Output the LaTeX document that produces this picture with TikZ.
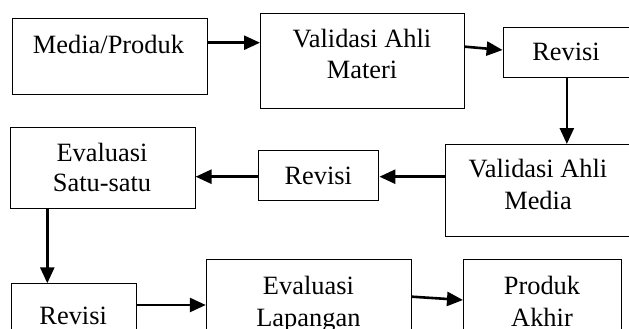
\documentclass[tikz,border=0pt]{standalone}
\usepackage{fontspec}
\setmainfont{Liberation Serif}
\usetikzlibrary{arrows.meta}
\begin{document}
\begin{tikzpicture}[x=1pt,y=-1pt,
  box/.style={draw=black,line width=1.1pt,rectangle,inner sep=0pt,anchor=north west},
  txt/.style={anchor=base,inner sep=0pt,font=\fontsize{26.4}{30}\selectfont},
  arr/.style={line width=2.6pt,-{Triangle[length=16pt,width=14pt]}}]
\useasboundingbox (0,0) rectangle (629,329);
\clip (0,0) rectangle (629,329);
% boxes
\node[box,minimum width=194.6pt,minimum height=76pt] (m1) at (12,18.3) {};
\node[box,minimum width=204pt,minimum height=95pt] (v1) at (260,12.7) {};
\node[box,minimum width=127.4pt,minimum height=50pt] (r1) at (502.6,26.7) {};
\node[box,minimum width=186pt,minimum height=92pt] (vm) at (445,144) {};
\node[box,minimum width=120pt,minimum height=50pt] (r2) at (258.3,150) {};
\node[box,minimum width=184.5pt,minimum height=80.8pt] (es) at (10,126.7) {};
\node[box,minimum width=124.8pt,minimum height=60pt] (r3) at (10.8,283.3) {};
\node[box,minimum width=205.2pt,minimum height=80pt] (el) at (205.8,259.3) {};
\node[box,minimum width=158pt,minimum height=80pt] (pa) at (463,259.3) {};
% texts
\node[txt] (t1) at (108.5,53) {Media/Produk};
\node[txt] (t2a) at (362,48) {Validasi Ahli};
\node[txt] (t2b) at (362,78) {Materi};
\node[txt] (t3) at (566,60) {Revisi};
\node[txt] (t4a) at (538,177.3) {Validasi Ahli};
\node[txt] (t4b) at (538,209) {Media};
\node[txt] (t5) at (318.3,184.3) {Revisi};
\node[txt] (t6a) at (102,161) {Evaluasi};
\node[txt] (t6b) at (102,191) {Satu-satu};
\node[txt] (t7) at (73.2,324.5) {Revisi};
\node[txt] (t8a) at (308.4,294) {Evaluasi};
\node[txt] (t8b) at (308.4,326) {Lapangan};
\node[txt] (t9a) at (542,294) {Produk};
\node[txt] (t9b) at (542,326) {Akhir};
% arrows
\draw[arr] (m1.east |- 0,42.7) -- (v1.west |- 0,42.7);
\draw[arr] (v1.east |- 0,46.7) -- (r1.west |- 0,50);
\draw[arr] (r1.south) -- (r1.south |- vm.north);
\draw[arr] (vm.west |- 0,176.7) -- (r2.east |- 0,176.7);
\draw[arr] (r2.west |- 0,176.7) -- (es.east |- 0,176.7);
\draw[arr] (es.south -| 47.3,0) -- (r3.north -| 47.3,0);
\draw[arr] (r3.east |- 0,305) -- (el.west |- 0,305);
\draw[arr] (el.east |- 0,296.7) -- (pa.west |- 0,300);
\end{tikzpicture}
\end{document}
